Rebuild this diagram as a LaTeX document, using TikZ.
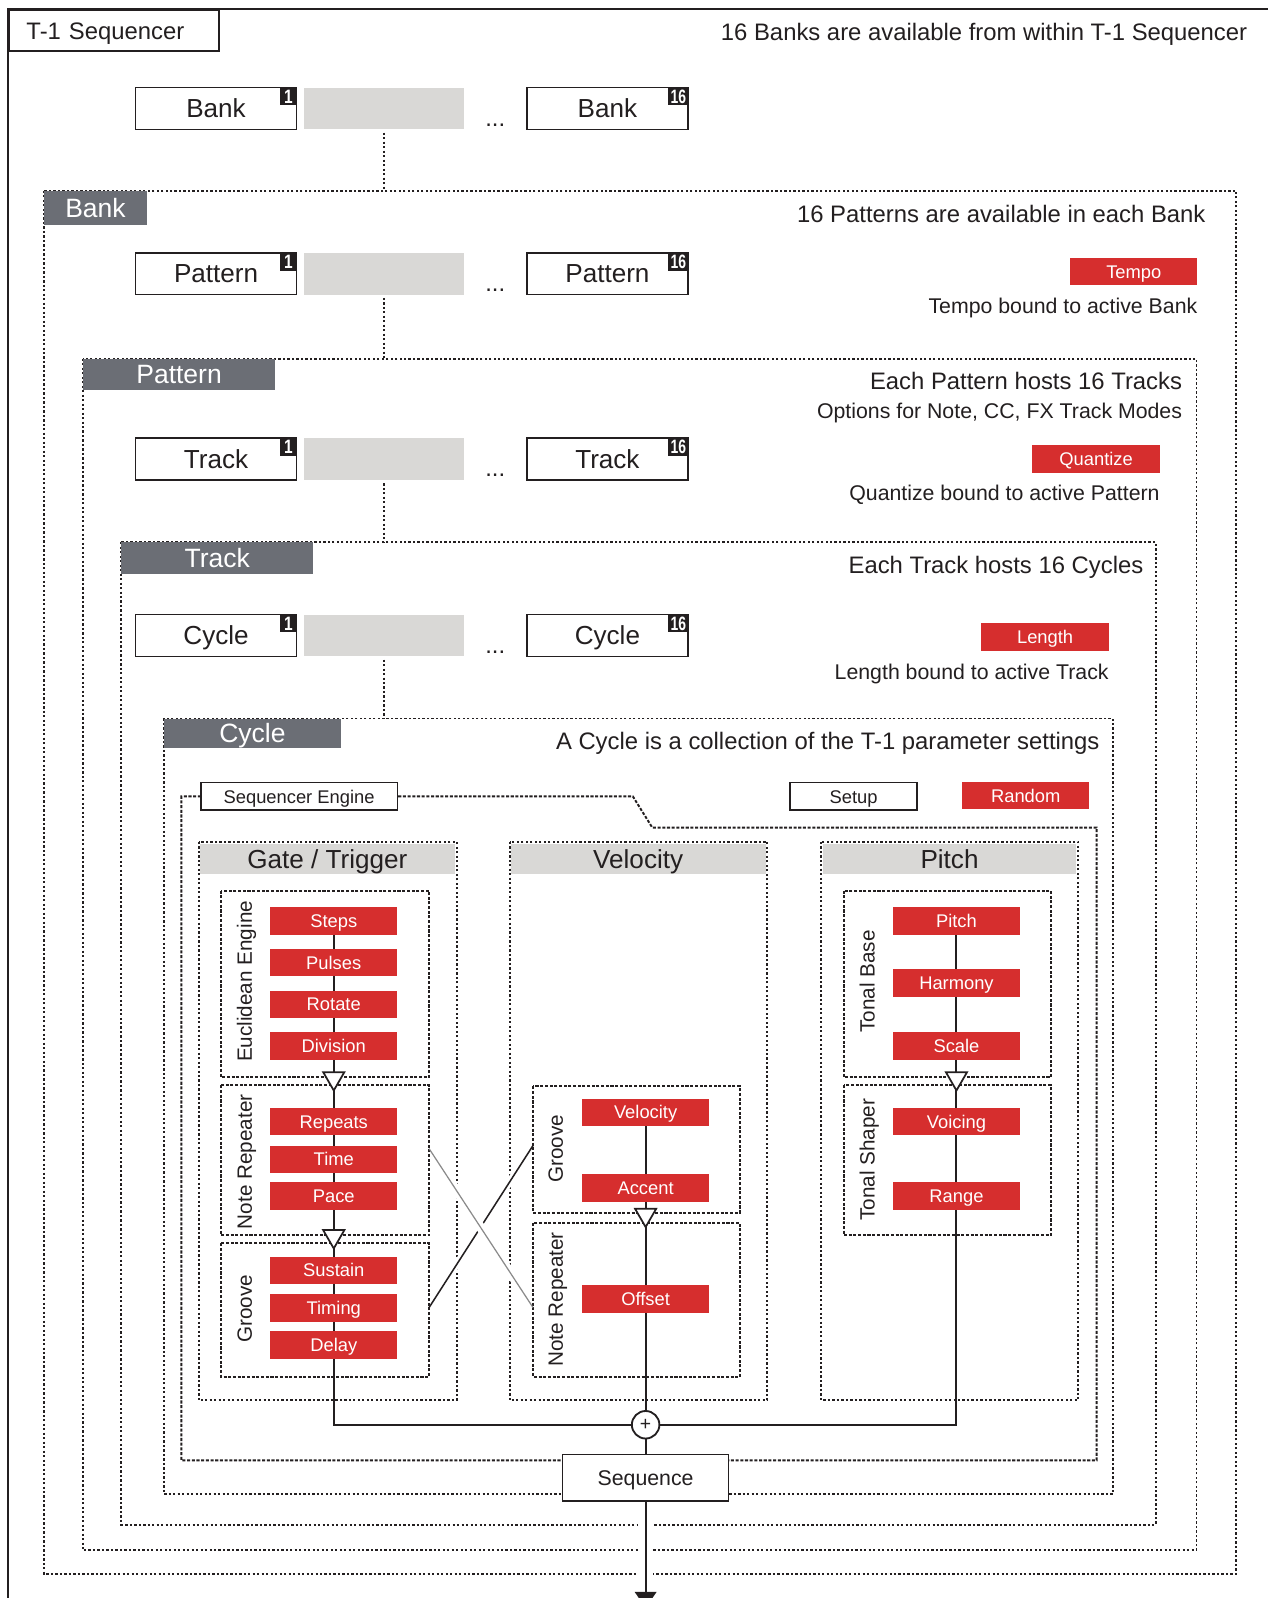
\documentclass[tikz,border=0pt]{standalone}
\usepackage{fontspec}
\setmainfont{Liberation Sans}
\usetikzlibrary{shapes.geometric,arrows.meta}
\definecolor{tred}{HTML}{D62E2E}
\definecolor{tdark}{HTML}{6B6E75}
\definecolor{tlight}{HTML}{D9D8D6}
\definecolor{tink}{HTML}{231F20}
\definecolor{tgray}{HTML}{8A8A8A}
\pgfdeclarelayer{background}
\pgfsetlayers{background,main}
\newcommand\myfs[1]{\fontsize{#1}{#1}\selectfont}
\newcommand\itemrow[3]{%
  \node[itembox] (#1a) at (212,#2) {#3};
  \node[badge] (#1n1) at (#1a.north east) {\scalebox{0.8}[1]{1}};
  \node[gapbox] (#1g) at (376.5,#2) {};
  \node[fdots] (#1dots) at (486,#2+17.5) {...};
  \node[itembox] (#1b) at (596,#2) {#3};
  \node[badge, minimum width=20pt] (#1n16) at (#1b.north east) {\scalebox{0.72}[1]{16}};
}
\tikzset{
  every node/.style={text=tink, inner sep=0pt},
  f23/.style={font=\myfs{23.4}, text height=16.7pt, text depth=0pt},
  f26/.style={font=\myfs{26}, text height=18.6pt, text depth=0pt},
  f255/.style={font=\myfs{25.6}, text height=18.3pt, text depth=0pt},
  f21/.style={font=\myfs{20.9}, text height=15pt, text depth=0pt},
  f20/.style={font=\myfs{20.3}, text height=14.5pt, text depth=0pt},
  f18/.style={font=\myfs{18}, text height=12.9pt, text depth=0pt},
  fdots/.style={font=\myfs{23.4}, anchor=base},
  frame/.style={draw=tink, line width=2pt},
  cont/.style={draw=tink, line width=1.9pt, dash pattern=on 2.2pt off 2.2pt},
  subbox/.style={draw=tink, line width=1.9pt, dash pattern=on 3pt off 1.6pt},
  conn/.style={draw=tink, line width=1.6pt, dash pattern=on 2.2pt off 2.2pt},
  tab/.style={fill=tdark, text=white, anchor=north west, f26},
  itembox/.style={draw=tink, line width=1.5pt, fill=white, minimum width=158pt, minimum height=41pt, f255},
  gapbox/.style={fill=tlight, minimum width=157pt, minimum height=41pt},
  badge/.style={fill=tink, text=white, anchor=north east, minimum width=17pt, minimum height=18pt,
    font=\myfs{19}\bfseries, text height=13.6pt, text depth=0pt},
  rbox/.style={fill=tred, text=white, minimum width=125pt, minimum height=27pt, f18},
  wbox/.style={draw=tink, line width=1.5pt, fill=white, minimum height=27pt, f18},
  colhead/.style={fill=tlight, anchor=north west, minimum width=250pt, minimum height=30pt, f255},
  vlabel/.style={rotate=90, f20},
  rtext/.style={anchor=east},
  tri/.style={regular polygon, regular polygon sides=3, shape border rotate=180, draw=tink,
    fill=white, line width=1.7pt, minimum size=24pt},
  flow/.style={draw=tink, line width=2pt},
}
\begin{document}
\begin{tikzpicture}[x=1pt,y=-1pt]
\useasboundingbox (0,0) rectangle (1244,1568);
\begin{pgfonlayer}{background}
\fill[white] (0,0) rectangle (1244,1568);
\end{pgfonlayer}

% ---------- outer frame ----------
\draw[frame] (8,1575) -- (8,9) -- (1250,9);
\node[draw=tink, line width=2pt, fill=white, anchor=north west, text width=172pt, align=left,
  inner xsep=17pt, minimum height=40pt, f23] (title) at (8,9) {T-1 Sequencer};
\node[f23, rtext] (banksnote) at (1224,31) {16 Banks are available from within T-1 Sequencer};
\itemrow{bank}{106.5}{Bank}

% ---------- Bank container ----------
\draw[cont] (43,187) rectangle (1213,1544);
\coordinate (bankTop) at (376.5,187);
\node[tab, minimum width=101pt, minimum height=34pt] (banktab) at (43,187) {Bank};
\node[f23, rtext] (patnote) at (1183,210) {16 Patterns are available in each Bank};
\itemrow{pat}{268.5}{Pattern}
\node[rbox] (tempo) at (1112.5,266.5) {Tempo};
\node[f21, rtext] (temponote) at (1175,300) {Tempo bound to active Bank};

% ---------- Pattern container ----------
\draw[cont] (81,352) rectangle (1174,1521);
\coordinate (patTop) at (376.5,352);
\node[tab, minimum width=189pt, minimum height=30pt] (pattab) at (81,352) {Pattern};
\node[f23, rtext] (trknote) at (1160,374) {Each Pattern hosts 16 Tracks};
\node[f21, rtext] (trkopt) at (1160,403) {Options for Note, CC, FX Track Modes};
\itemrow{trk}{450.5}{Track}
\node[rbox] (quant) at (1075.5,450.5) {Quantize};
\node[f21, rtext] (quantnote) at (1138,484) {Quantize bound to active Pattern};

% ---------- Track container ----------
\draw[cont] (119,532) rectangle (1134,1496);
\coordinate (trkTop) at (376.5,532);
\node[tab, minimum width=188pt, minimum height=31pt] (trktab) at (119,532) {Track};
\node[f23, rtext] (cycnote) at (1122,554) {Each Track hosts 16 Cycles};
\itemrow{cyc}{623.5}{Cycle}
\node[rbox] (length) at (1025.5,625) {Length};
\node[f21, rtext] (lengthnote) at (1088,659) {Length bound to active Track};

% ---------- Cycle container ----------
\draw[cont] (161,705) rectangle (1092,1466);
\coordinate (cycTop) at (376.5,705);
\node[tab, minimum width=173pt, minimum height=29pt] (cyctab) at (161,705) {Cycle};
\node[f23, rtext] (cyclenote) at (1079,727) {A Cycle is a collection of the T-1 parameter settings};

% dotted hierarchy connectors
\draw[conn, shorten <=3pt] (bankg) -- (bankTop);
\draw[conn, shorten <=3pt] (patg) -- (patTop);
\draw[conn, shorten <=3pt] (trkg) -- (trkTop);
\draw[conn, shorten <=3pt] (cycg) -- (cycTop);

% ---------- Sequencer Engine ----------
\node[wbox, minimum width=193pt] (seqeng) at (293.5,781.5) {Sequencer Engine};
\draw[subbox] (seqeng.east) -- (621,781.5) -- (640,812) -- (1076,812) -- (1076,1433) -- (178,1433) -- (178,781.5) -- (seqeng.west);
\node[wbox, minimum width=125pt] (setup) at (837.5,781.5) {Setup};
\node[rbox] (random) at (1006.5,780.5) {Random};

% columns
\draw[cont] (195,826) rectangle (448,1374);
\node[colhead] (gatehead) at (196,827.5) {Gate / Trigger};
\draw[cont] (500,826) rectangle (753,1374);
\node[colhead] (velhead) at (501,827.5) {Velocity};
\draw[cont] (806,826) rectangle (1058,1374);
\node[colhead, minimum width=249pt] (pitchhead) at (807,827.5) {Pitch};

% sub boxes
\draw[subbox] (217,874) rectangle (421,1057);
\node[vlabel] (euclab) at (240,963) {Euclidean Engine};
\draw[subbox] (217,1065) rectangle (421,1212);
\node[vlabel] (gnrlab) at (240,1140) {Note Repeater};
\draw[subbox] (217,1220) rectangle (421,1351);
\node[vlabel] (ggrlab) at (240,1284) {Groove};
\draw[subbox] (523,1066) rectangle (726,1190);
\node[vlabel] (vgrlab) at (545,1127) {Groove};
\draw[subbox] (523,1200) rectangle (726,1351);
\node[vlabel] (vnrlab) at (545,1275) {Note Repeater};
\draw[subbox] (828,874) rectangle (1031,1057);
\node[vlabel] (tblab) at (851,963) {Tonal Base};
\draw[subbox] (828,1065) rectangle (1031,1212);
\node[vlabel] (tslab) at (851,1138) {Tonal Shaper};

% red parameter boxes
\node[rbox] (steps) at (327.5,903.5) {Steps};
\node[rbox] (pulses) at (327.5,944.5) {Pulses};
\node[rbox] (rotate) at (327.5,985.5) {Rotate};
\node[rbox] (division) at (327.5,1026.5) {Division};
\node[rbox] (repeats) at (327.5,1100.5) {Repeats};
\node[rbox] (time) at (327.5,1137.5) {Time};
\node[rbox] (pace) at (327.5,1173.5) {Pace};
\node[rbox] (sustain) at (327.5,1246.5) {Sustain};
\node[rbox] (timing) at (327.5,1283.5) {Timing};
\node[rbox] (delay) at (327.5,1319.5) {Delay};
\node[rbox] (velr) at (633.5,1091.5) {Velocity};
\node[rbox] (accent) at (633.5,1165.5) {Accent};
\node[rbox] (offset) at (633.5,1274.5) {Offset};
\node[rbox] (pitchr) at (938.5,903.5) {Pitch};
\node[rbox] (harmony) at (938.5,964.5) {Harmony};
\node[rbox] (scale) at (938.5,1026.5) {Scale};
\node[rbox] (voicing) at (938.5,1100.5) {Voicing};
\node[rbox] (range) at (938.5,1173.5) {Range};

% triangles
\node[tri] (gtri1) at (327.5,1058) {};
\node[tri] (gtri2) at (327.5,1213) {};
\node[tri] (vtri) at (633.5,1192) {};
\node[tri] (ptri) at (938.5,1058) {};

% summing point and output
\node[circle, draw=tink, line width=1.8pt, fill=white, minimum size=27pt, font=\myfs{19}] (plus) at (633.5,1398) {+};
\coordinate (gjoin) at (327.5,1398);
\coordinate (pjoin) at (938.5,1398);
\node[draw=tink, line width=1.5pt, fill=white, minimum width=163pt, minimum height=46pt, f21] (sequence) at (633.5,1450) {Sequence};
\coordinate (outend) at (633.5,1578);

\begin{pgfonlayer}{background}
\draw[flow] (steps.center) -- (delay.center) -- (gjoin) -- (plus.center);
\draw[flow] (pitchr.center) -- (range.center) -- (pjoin) -- (plus.center);
\draw[flow] (velr.center) -- (plus.center);
\draw[flow] (plus.center) -- (sequence.center);
\end{pgfonlayer}

% output arrow with gaps in the container borders
\draw[white, line width=14pt] ([yshift=-5pt]sequence.south) -- (outend);
\draw[flow, -{Triangle[width=21pt,length=16pt]}] (sequence.south) -- (outend);

% crossing links between the groups
\coordinate (vgrW) at (523,1124);
\coordinate (ggrE) at (421,1283);
\coordinate (gnrE) at (421,1127);
\coordinate (vnrW) at (523,1283);
\draw[white, line width=7pt, shorten >=8pt, shorten <=8pt] (vgrW) -- (ggrE);
\draw[tink, line width=1.5pt] (vgrW) -- (ggrE);
\draw[white, line width=9pt, shorten >=8pt, shorten <=8pt] (gnrE) -- (vnrW);
\draw[tgray, line width=1.2pt] (gnrE) -- (vnrW);
\end{tikzpicture}
\end{document}
